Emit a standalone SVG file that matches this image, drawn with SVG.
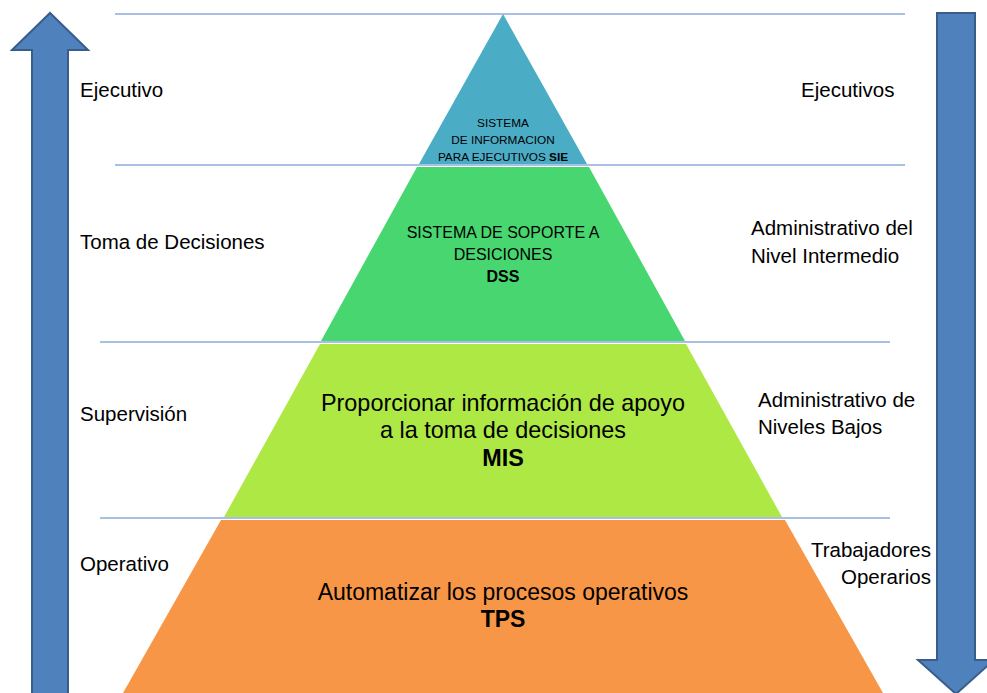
<svg xmlns="http://www.w3.org/2000/svg" width="987" height="693" viewBox="0 0 987 693">
<style>
.lbl{font-family:"Liberation Sans",Arial,sans-serif;font-size:20.5px;fill:#000}
.c{text-anchor:middle;font-family:"Liberation Sans",Arial,sans-serif;fill:#000}
.b{font-weight:bold}
.arrow{fill:#4F81BD;stroke:#385D8A;stroke-width:2}
.hl{stroke:#8EAADB;stroke-width:1.5}
</style>
<rect width="987" height="693" fill="#fff"/>
<g id="arrow-up"><path class="arrow" d="M32,700 L32,50 L12,50 L50,13 L88,50 L68,50 L68,700 Z"/></g>
<g id="arrow-down"><path class="arrow" d="M937,13 L975,13 L975,660 L994,660 L956,694 L918,660 L937,660 Z"/></g>
<g id="sie">
<polygon points="503,14 419,164 587,164" fill="#4BACC6"/>
<text class="c" font-size="11.8" x="503" y="127">SISTEMA</text>
<text class="c" font-size="11.8" x="503" y="144">DE INFORMACION</text>
<text class="c" font-size="11.8" x="503" y="161">PARA EJECUTIVOS <tspan class="b">SIE</tspan></text>
</g>
<g id="dss">
<polygon points="417,167 589,167 685,341 321,341" fill="#47D66F"/>
<text class="c" font-size="16" x="503" y="238">SISTEMA DE SOPORTE A</text>
<text class="c" font-size="16" x="503" y="260">DESICIONES</text>
<text class="c b" font-size="16" x="503" y="282">DSS</text>
</g>
<g id="mis">
<polygon points="320,344 686,344 782,517 224,517" fill="#AEE845"/>
<text class="c" font-size="23.4" x="503" y="411">Proporcionar información de apoyo</text>
<text class="c" font-size="23.4" x="503" y="438">a la toma de decisiones</text>
<text class="c b" font-size="23.4" x="503" y="466">MIS</text>
</g>
<g id="tps">
<polygon points="221,520 785,520 883,693 123,693" fill="#F79646"/>
<text class="c" font-size="23" x="503" y="600">Automatizar los procesos operativos</text>
<text class="c b" font-size="23" x="503" y="627">TPS</text>
</g>
<g id="connectors">
<line class="hl" x1="115" y1="14" x2="905" y2="14"/>
<line class="hl" x1="115" y1="165" x2="905" y2="165"/>
<line class="hl" x1="100" y1="342" x2="890" y2="342"/>
<line class="hl" x1="100" y1="518" x2="890" y2="518"/>
</g>
<g id="left-labels">
<text class="lbl" x="80" y="97">Ejecutivo</text>
<text class="lbl" x="80" y="249">Toma de Decisiones</text>
<text class="lbl" x="80" y="421">Supervisión</text>
<text class="lbl" x="80" y="571">Operativo</text>
</g>
<g id="right-labels">
<text class="lbl" x="801" y="97">Ejecutivos</text>
<text class="lbl" x="751" y="235">Administrativo del</text>
<text class="lbl" x="751" y="263">Nivel Intermedio</text>
<text class="lbl" x="758" y="407">Administrativo de</text>
<text class="lbl" x="758" y="434">Niveles Bajos</text>
<text class="lbl" x="931" y="557" text-anchor="end">Trabajadores</text>
<text class="lbl" x="931" y="584" text-anchor="end">Operarios</text>
</g>
</svg>
